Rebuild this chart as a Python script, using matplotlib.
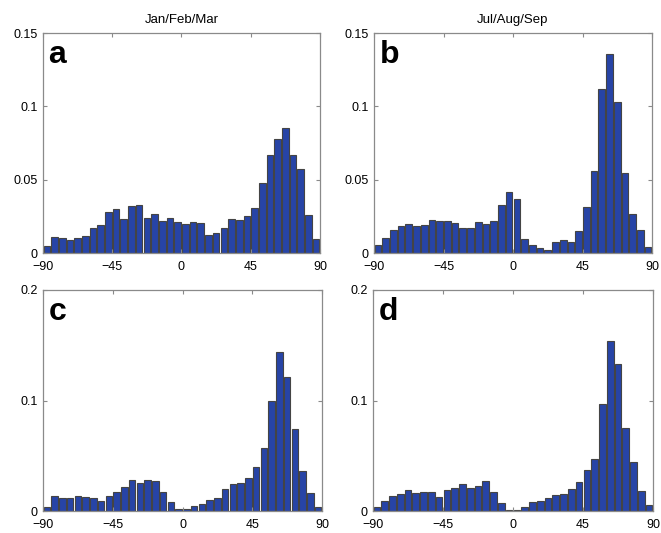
import numpy as np
import matplotlib
matplotlib.use("Agg")
import matplotlib.pyplot as plt

plt.rcParams['font.family'] = ['Liberation Sans', 'DejaVu Sans']

# 5도 간격 구간 중심 (-87.5 ~ 87.5)
bin_centers = np.arange(-87.5, 90, 5)

freq_a = [0.0048, 0.0107, 0.0102, 0.0089, 0.0102, 0.0116, 0.017, 0.019, 0.028, 0.030,
          0.023, 0.032, 0.033, 0.024, 0.0266, 0.0216, 0.024, 0.021, 0.020, 0.021,
          0.0205, 0.012, 0.0134, 0.0173, 0.023, 0.0225, 0.025, 0.031, 0.048, 0.067,
          0.078, 0.085, 0.067, 0.0575, 0.026, 0.0098]
freq_b = [0.0057, 0.010, 0.0155, 0.0186, 0.020, 0.0186, 0.0193, 0.0227, 0.0218, 0.0218,
          0.0205, 0.0173, 0.0173, 0.021, 0.020, 0.0218, 0.0327, 0.0416, 0.0368, 0.0098,
          0.0057, 0.0032, 0.0023, 0.0075, 0.0091, 0.0077, 0.015, 0.0316, 0.056, 0.112,
          0.136, 0.103, 0.0548, 0.0266, 0.0155, 0.0043]
freq_c = [0.004, 0.014, 0.0115, 0.0115, 0.0136, 0.0124, 0.0118, 0.009, 0.0136, 0.017,
          0.022, 0.028, 0.0255, 0.028, 0.0276, 0.0176, 0.008, 0.0018, 0.0015, 0.0048,
          0.006, 0.0103, 0.0118, 0.0197, 0.024, 0.025, 0.030, 0.040, 0.057, 0.100,
          0.144, 0.121, 0.074, 0.036, 0.0164, 0.004]
freq_d = [0.004, 0.009, 0.0136, 0.0158, 0.0194, 0.0164, 0.017, 0.0173, 0.013, 0.019,
          0.021, 0.024, 0.021, 0.023, 0.0276, 0.017, 0.0076, 0.001, 0.0012, 0.0033,
          0.0079, 0.009, 0.0118, 0.0145, 0.0155, 0.0197, 0.0258, 0.0367, 0.0467, 0.0967,
          0.154, 0.133, 0.075, 0.044, 0.0185, 0.005]

panel_letters = ["a", "b", "c", "d"]
titles = ["Jan/Feb/Mar", "Jul/Aug/Sep", None, None]
x_ticks = [-90, -45, 0, 45, 90]
y_ticks_top = [0, 0.05, 0.1, 0.15]
y_labels_top = ["0", "0.05", "0.1", "0.15"]
y_ticks_bot = [0, 0.1, 0.2]
y_labels_bot = ["0", "0.1", "0.2"]

W, H = 661, 533
fig = plt.figure(figsize=(W / 100, H / 100), dpi=100)

# 축 위치 (픽셀 -> 비율)
boxes = [
    (43, 33, 320, 253),
    (374, 33, 652, 253),
    (43, 290, 322, 511),
    (373, 290, 653, 511),
]

data = [freq_a, freq_b, freq_c, freq_d]
bar_color = "#2744a6"
edge_color = "#444444"
spine_color = "#8a8a8a"

for i, (x0, y0, x1, y1) in enumerate(boxes):
    ax = fig.add_axes([x0 / W, 1 - y1 / H, (x1 - x0) / W, (y1 - y0) / H])
    ax.bar(bin_centers, data[i], width=4.3, color=bar_color,
           edgecolor=edge_color, linewidth=0.8)
    ax.set_xlim(-90, 90)
    ax.set_xticks(x_ticks)
    ax.set_xticklabels([str(t).replace("-", "\u2212") for t in x_ticks])
    if i < 2:
        ax.set_ylim(0, 0.15)
        ax.set_yticks(y_ticks_top)
        ax.set_yticklabels(y_labels_top)
    else:
        ax.set_ylim(0, 0.2)
        ax.set_yticks(y_ticks_bot)
        ax.set_yticklabels(y_labels_bot)
    ax.tick_params(direction="in", length=3, width=0.8, color=spine_color,
                   labelsize=9, top=True, right=True)
    ax.tick_params(axis="x", pad=6)
    ax.tick_params(axis="y", pad=4)
    for sp in ax.spines.values():
        sp.set_color(spine_color)
        sp.set_linewidth(0.9)
    ax.text(0.02, 0.865, panel_letters[i], transform=ax.transAxes,
            fontsize=23, fontweight="bold", va="baseline", ha="left")
    if titles[i]:
        ax.set_title(titles[i], fontsize=9.5, pad=7)

fig.savefig("out.png", dpi=100)
